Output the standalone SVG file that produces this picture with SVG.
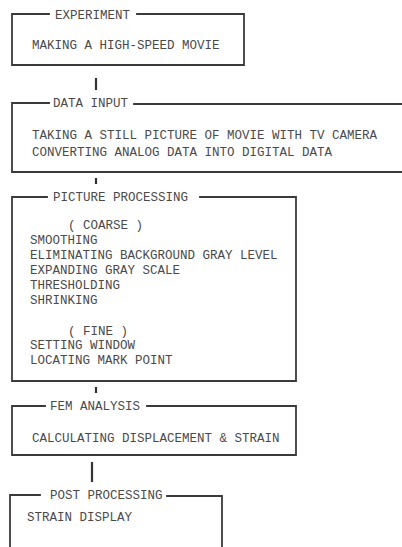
<svg xmlns="http://www.w3.org/2000/svg" width="402" height="547" viewBox="0 0 402 547">
<style>
.frame{fill:none;stroke:#3a3a3a;stroke-width:1.8;stroke-linecap:square}
.conn{fill:none;stroke:#333;stroke-width:2.2}
text{font-family:"Liberation Mono","DejaVu Sans Mono",monospace;font-size:12.5px;fill:#4a4a4a}
</style>
<rect width="402" height="547" fill="#ffffff"/>
<g id="experiment">
<path class="frame" d="M49,14 H12 V65 H244 V14 H137"/>
<text x="55" y="19">EXPERIMENT</text>
<text x="32" y="49">MAKING A HIGH-SPEED MOVIE</text>
</g>
<g id="data-input">
<path class="frame" d="M49,103 H12 V172 H404 M404,104 H134"/>
<text x="53" y="107">DATA INPUT</text>
<text x="32" y="139">TAKING A STILL PICTURE OF MOVIE WITH TV CAMERA</text>
<text x="32" y="156">CONVERTING ANALOG DATA INTO DIGITAL DATA</text>
</g>
<g id="picture-processing">
<path class="frame" d="M47,197 H12 V381 H296 V197 H200"/>
<text x="53" y="201">PICTURE PROCESSING</text>
<text x="68" y="229">( COARSE )</text>
<text x="30" y="244">SMOOTHING</text>
<text x="30" y="259">ELIMINATING BACKGROUND GRAY LEVEL</text>
<text x="30" y="274">EXPANDING GRAY SCALE</text>
<text x="30" y="289">THRESHOLDING</text>
<text x="30" y="304">SHRINKING</text>
<text x="68" y="335">( FINE )</text>
<text x="30" y="349">SETTING WINDOW</text>
<text x="30" y="364">LOCATING MARK POINT</text>
</g>
<g id="fem-analysis">
<path class="frame" d="M45,406 H12 V455 H296 V406 H147"/>
<text x="50" y="410">FEM ANALYSIS</text>
<text x="32" y="442">CALCULATING DISPLACEMENT &amp; STRAIN</text>
</g>
<g id="post-processing">
<path class="frame" d="M40,495 H10 V550 M222,550 V496 H167"/>
<text x="50" y="499">POST PROCESSING</text>
<text x="27" y="521">STRAIN DISPLAY</text>
</g>
<g id="connectors">
<line class="conn" x1="96" y1="78" x2="96" y2="90"/>
<line class="conn" x1="96" y1="178" x2="96" y2="184"/>
<line class="conn" x1="96" y1="387" x2="96" y2="393"/>
<line class="conn" x1="92" y1="462" x2="92" y2="482"/>
</g>
</svg>
